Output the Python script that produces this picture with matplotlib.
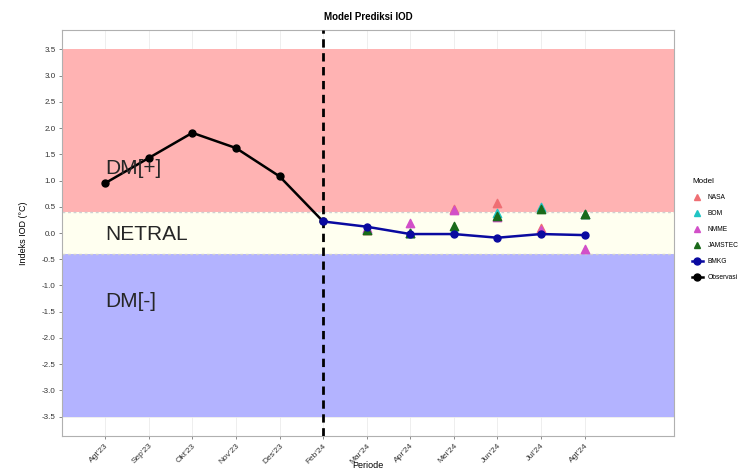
import matplotlib
matplotlib.use("Agg")
import matplotlib.pyplot as plt
from matplotlib.lines import Line2D

plt.rcParams['font.family'] = ['Liberation Sans', 'DejaVu Sans']

# ---- data ----
months = ["Agt'23", "Sep'23", "Okt'23", "Nov'23", "Des'23", "Feb'24",
          "Mar'24", "Apr'24", "Mei'24", "Jun'24", "Jul'24", "Agt'24"]
obs_months = ["Agt'23", "Sep'23", "Okt'23", "Nov'23", "Des'23", "Feb'24"]
obs_values = [0.95, 1.43, 1.91, 1.62, 1.08, 0.22]

bmkg_months = ["Feb'24", "Mar'24", "Apr'24", "Mei'24", "Jun'24", "Jul'24", "Agt'24"]
bmkg_values = [0.22, 0.12, -0.02, -0.02, -0.09, -0.02, -0.04]

model_months = ["Mar'24", "Apr'24", "Mei'24", "Jun'24", "Jul'24", "Agt'24"]
nasa_values = [0.05, 0.00, 0.46, 0.57, 0.10, 0.36]
bom_values = [0.08, 0.00, 0.05, 0.38, 0.50, 0.37]
nmme_values = [0.10, 0.19, 0.43, 0.30, 0.05, -0.30]
jamstec_values = [0.05, 0.00, 0.14, 0.33, 0.46, 0.37]

y_ticks = [-3.5, -3.0, -2.5, -2.0, -1.5, -1.0, -0.5, 0.0, 0.5, 1.0, 1.5, 2.0, 2.5, 3.0, 3.5]

pos = {m: i + 1 for i, m in enumerate(months)}

fig = plt.figure(figsize=(7.49, 4.72), dpi=100)
ax = fig.add_axes([62 / 749, 1 - 436 / 472, (674 - 62) / 749, (436 - 30) / 472])

xmin, xmax = 0.01, 14.05
ax.set_xlim(xmin, xmax)
ax.set_ylim(-3.87, 3.87)

# background zones
ax.axhspan(0.4, 3.5, color='#ffb3b3', zorder=1, lw=0)
ax.axhspan(-0.4, 0.4, color='#fffff0', zorder=1, lw=0)
ax.axhspan(-3.5, -0.4, color='#b3b3ff', zorder=1, lw=0)
ax.axhline(0.4, color='#d0d0d0', ls=(0, (2, 2)), lw=1.0, zorder=2)
ax.axhline(-0.4, color='#d0d0d0', ls=(0, (2, 2)), lw=1.0, zorder=2)

ax.grid(True, color='#ebebeb', lw=0.6, zorder=0)
ax.set_axisbelow(True)

# dashed vertical line at start of prediction
ax.axvline(pos["Feb'24"], color='black', ls=(0, (3, 2)), lw=2.0, zorder=3)

# observation
ax.plot([pos[m] for m in obs_months], obs_values, color='black', lw=1.8,
        marker='o', ms=5, zorder=6)
# models
mx = [pos[m] for m in model_months]
ax.scatter(mx, nasa_values, marker='^', s=36, color='#ef6f74', zorder=4)
ax.scatter(mx, bom_values, marker='^', s=36, color='#20c4c4', zorder=4)
ax.scatter(mx, nmme_values, marker='^', s=36, color='#d24fc8', zorder=4)
ax.scatter(mx, jamstec_values, marker='^', s=36, color='#1a6a1a', zorder=4)
# BMKG
ax.plot([pos[m] for m in bmkg_months], bmkg_values, color='#0a0aa0', lw=1.8,
        marker='o', ms=5, zorder=7)

# zone labels
ax.text(1.0, 1.23, 'DM[+]', fontsize=15, color='#262626', va='center', ha='left', zorder=8)
ax.text(1.0, -0.03, 'NETRAL', fontsize=15, color='#262626', va='center', ha='left', zorder=8)
ax.text(1.0, -1.31, 'DM[-]', fontsize=15, color='#262626', va='center', ha='left', zorder=8)

ax.set_xticks(range(1, len(months) + 1))
ax.set_xticklabels(months, rotation=45, ha='right', rotation_mode='anchor',
                   fontsize=6, color='#333333')
ax.set_yticks(y_ticks)
ax.set_yticklabels([f'{v:.1f}' for v in y_ticks], fontsize=5.8, color='#333333')
ax.tick_params(axis='both', length=2.5, width=0.6, color='#777777', pad=2)
for s in ax.spines.values():
    s.set_color('#b0b0b0')
    s.set_linewidth(0.8)

ax.set_xlabel('Periode', fontsize=6.5, labelpad=-3, color='black')
ax.set_ylabel('Indeks IOD (°C)', fontsize=6.5, color='black', labelpad=10)
ax.set_title('Model Prediksi IOD', fontsize=7, fontweight='bold', pad=7)

handles = [
    Line2D([], [], marker='^', ls='none', color='#ef6f74', ms=5),
    Line2D([], [], marker='^', ls='none', color='#20c4c4', ms=5),
    Line2D([], [], marker='^', ls='none', color='#d24fc8', ms=5),
    Line2D([], [], marker='^', ls='none', color='#1a6a1a', ms=5),
    Line2D([], [], marker='o', ls='-', color='#0a0aa0', ms=5, lw=1.8),
    Line2D([], [], marker='o', ls='-', color='black', ms=5, lw=1.8),
]
labels = ['NASA', 'BOM', 'NMME', 'JAMSTEC', 'BMKG', 'Observasi']
leg = fig.legend(handles, labels, title='Model', loc='upper left',
                 bbox_to_anchor=(686 / 749, 1 - 172 / 472), frameon=False,
                 fontsize=4.8, title_fontsize=5.8, handlelength=1.6,
                 labelspacing=1.35, alignment='left')

fig.savefig('out.png', dpi=100)
